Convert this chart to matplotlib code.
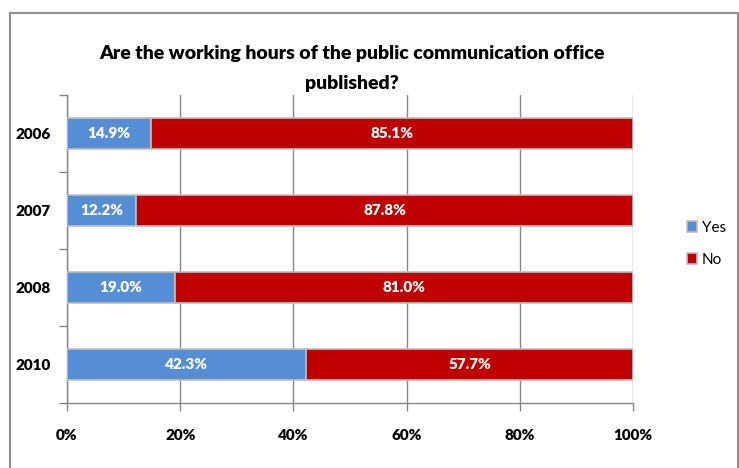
import matplotlib.pyplot as plt
from matplotlib.patches import Rectangle

years = ['2006', '2007', '2008', '2010']
yes_pct = [14.9, 12.2, 19.0, 42.3]
no_pct = [85.1, 87.8, 81.0, 57.7]

plt.rcParams['font.family'] = ['Lato', 'DejaVu Sans']

fig = plt.figure(figsize=(7.39, 4.68), dpi=100)
ax = fig.add_axes([67 / 739, 1 - 403 / 468, (633 - 67) / 739, (403 - 95) / 468])

pos = list(range(len(years)))
h = 0.39
ax.barh(pos, yes_pct, height=h, color='#558ED5', edgecolor='#BFBFBF', linewidth=1.2, label='Yes', zorder=3)
ax.barh(pos, no_pct, left=yes_pct, height=h, color='#C00000', edgecolor='#BFBFBF', linewidth=1.2, label='No', zorder=3)

for i in pos:
    ax.text(yes_pct[i] / 2, i, f'{yes_pct[i]:.1f}%', ha='center', va='center',
            color='white', fontsize=11, fontweight='heavy', zorder=4)
    ax.text(yes_pct[i] + no_pct[i] / 2, i, f'{no_pct[i]:.1f}%', ha='center', va='center',
            color='white', fontsize=11, fontweight='heavy', zorder=4)

ax.set_xlim(0, 100)
ax.set_ylim(len(years) - 0.5, -0.5)
ax.set_xticks([0, 20, 40, 60, 80, 100])
ax.set_xticklabels(['0%', '20%', '40%', '60%', '80%', '100%'], fontsize=11, fontweight='heavy')
ax.set_yticks(pos)
ax.set_yticklabels(years, fontsize=11, fontweight='heavy')
ax.set_yticks([-0.5, 0.5, 1.5, 2.5, 3.5], minor=True)
ax.tick_params(axis='y', which='major', length=0, pad=12)
ax.tick_params(axis='y', which='minor', length=6, color='#868686', width=1)
ax.tick_params(axis='x', length=6, color='#868686', width=1, pad=13)
ax.xaxis.grid(True, color='#868686', linewidth=1, zorder=0)
for side in ['top', 'right']:
    ax.spines[side].set_visible(False)
for side in ['left', 'bottom']:
    ax.spines[side].set_color('#868686')
    ax.spines[side].set_linewidth(1)

fig.text(352 / 739, 1 - 53 / 468, 'Are the working hours of the public communication office',
         ha='center', va='center', fontsize=14, fontweight='heavy')
fig.text(352 / 739, 1 - 83 / 468, 'published?',
         ha='center', va='center', fontsize=14, fontweight='heavy')

leg = ax.legend(loc='center left', bbox_to_anchor=(673 / 739, 1 - 244 / 468),
                bbox_transform=fig.transFigure, frameon=False, fontsize=11,
                handlelength=0.7, handleheight=0.7, handletextpad=0.3, labelspacing=1.2)
for p in leg.get_patches():
    p.set_edgecolor('#BFBFBF')

fig.add_artist(Rectangle((9.5 / 739, -0.1), (737.5 - 9.5) / 739, 1 - 12.5 / 468 + 0.1,
                         transform=fig.transFigure, fill=False, edgecolor='#909090', linewidth=1.5))

fig.savefig('out.png', dpi=100)
